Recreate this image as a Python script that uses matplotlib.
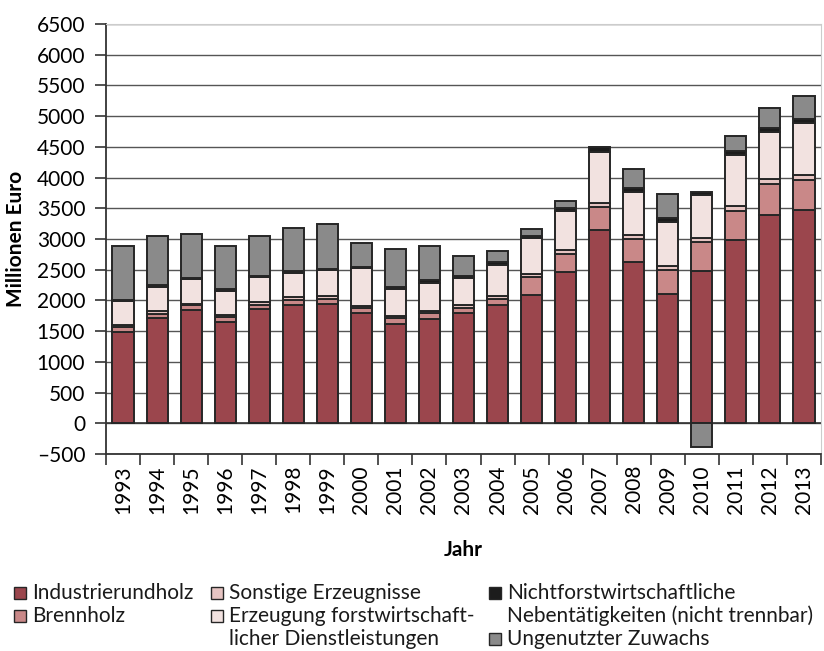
import matplotlib
matplotlib.use("Agg")
import matplotlib.pyplot as plt
import matplotlib.patches as patches
import numpy as np

plt.rcParams['font.family'] = ['Lato', 'DejaVu Sans']

# Daten (Millionen Euro)
jahre = [str(j) for j in range(1993, 2014)]
industrierundholz = [1480, 1720, 1850, 1650, 1860, 1930, 1940, 1790, 1620, 1700, 1790,
                     1920, 2090, 2460, 3150, 2630, 2110, 2480, 2990, 3390, 3470]
brennholz = [80, 60, 70, 80, 60, 70, 80, 80, 90, 90, 90,
             100, 290, 300, 370, 370, 380, 470, 470, 500, 490]
sonstige = [40, 40, 30, 40, 50, 50, 50, 40, 40, 30, 40,
            50, 50, 60, 70, 70, 70, 70, 70, 80, 80]
erzeugung = [390, 400, 400, 390, 410, 400, 420, 610, 440, 470, 440,
             510, 590, 640, 830, 700, 720, 700, 830, 780, 850]
nichtforst = [20, 30, 20, 30, 20, 30, 20, 30, 30, 40, 40,
              40, 30, 40, 80, 60, 60, 50, 70, 60, 70]
ungenutzt = [870, 800, 710, 690, 650, 700, 740, 390, 610, 560, 330,
             180, 120, 120, 0, 310, 390, -390, 250, 330, 360]

labels = ['Industrierundholz', 'Brennholz', 'Sonstige Erzeugnisse',
          'Erzeugung forstwirtschaft-\nlicher Dienstleistungen',
          'Nichtforstwirtschaftliche\nNebentätigkeiten (nicht trennbar)',
          'Ungenutzter Zuwachs']
farben = ['#9b464d', '#c98888', '#e6c4c2', '#f2e2e0', '#1c1c1c', '#8a8a8a']

W, H = 824, 651
fig = plt.figure(figsize=(W / 100, H / 100), dpi=100)
ax = fig.add_axes([106 / W, 1 - 454 / H, 715 / W, 430 / H])

x = np.arange(len(jahre))
serien = [industrierundholz, brennholz, sonstige, erzeugung, nichtforst]
bottom = np.zeros(len(jahre))
for werte, farbe in zip(serien, farben[:5]):
    ax.bar(x, werte, 0.62, bottom=bottom, color=farbe, edgecolor='#262626',
           linewidth=1.4, zorder=3)
    bottom += np.array(werte)

# Ungenutzter Zuwachs: positiv oben drauf, negativ unter null
ung = np.array(ungenutzt)
ung_bottom = np.where(ung >= 0, bottom, 0)
ax.bar(x, ung, 0.62, bottom=ung_bottom, color=farben[5], edgecolor='#262626',
       linewidth=1.4, zorder=3)

ax.set_xlim(-0.5, len(jahre) - 0.5)
ax.set_ylim(-500, 6500)
ax.set_yticks(np.arange(-500, 6501, 500))
ax.set_yticklabels([str(v).replace('-', '\u2013') for v in range(-500, 6501, 500)])
ax.yaxis.grid(True, color='#555555', linewidth=1.0, zorder=0)
ax.axhline(0, color='#333333', linewidth=1.2, zorder=2)

ax.set_xticks(x)
ax.set_xticklabels(jahre, rotation=90)
ax.set_xticks(np.arange(-0.5, len(jahre), 1), minor=True)
ax.tick_params(axis='x', which='major', length=0, pad=8, labelsize=15)
ax.tick_params(axis='x', which='minor', length=8, width=1.2, color='#333333')
ax.tick_params(axis='y', length=8, width=1.2, color='#333333', labelsize=15, pad=7)

for s in ['top', 'right']:
    ax.spines[s].set_color('#cccccc')
ax.spines['left'].set_color('#333333')
ax.spines['left'].set_linewidth(1.3)
ax.spines['bottom'].set_color('#333333')
ax.spines['bottom'].set_linewidth(1.3)

ax.set_ylabel('Millionen Euro', fontsize=15, fontweight='bold', labelpad=8)
ax.set_xlabel('Jahr', fontsize=15, fontweight='bold', labelpad=19)

# Legende von Hand: (Spalte x Kästchen, Zeile) je Eintrag
spalten_x = [14, 211, 489]
zeilen_y = [593, 616, 639]
pos = [(0, 0), (0, 1), (1, 0), (1, 1), (2, 0), (2, 2)]
for (sp, ze), farbe, lab in zip(pos, farben, labels):
    px, py = spalten_x[sp], zeilen_y[ze]
    r = patches.Rectangle(((px) / W, 1 - (py + 6) / H), 12 / W, 12 / H,
                          transform=fig.transFigure, facecolor=farbe,
                          edgecolor='#262626', linewidth=1.0)
    fig.patches.append(r)
    for i, zeile in enumerate(lab.split('\n')):
        fig.text((px + 18) / W, 1 - (py + 23 * i) / H, zeile, fontsize=15,
                 va='center', ha='left', color='#1a1a1a')

fig.savefig('out.png', dpi=100)
